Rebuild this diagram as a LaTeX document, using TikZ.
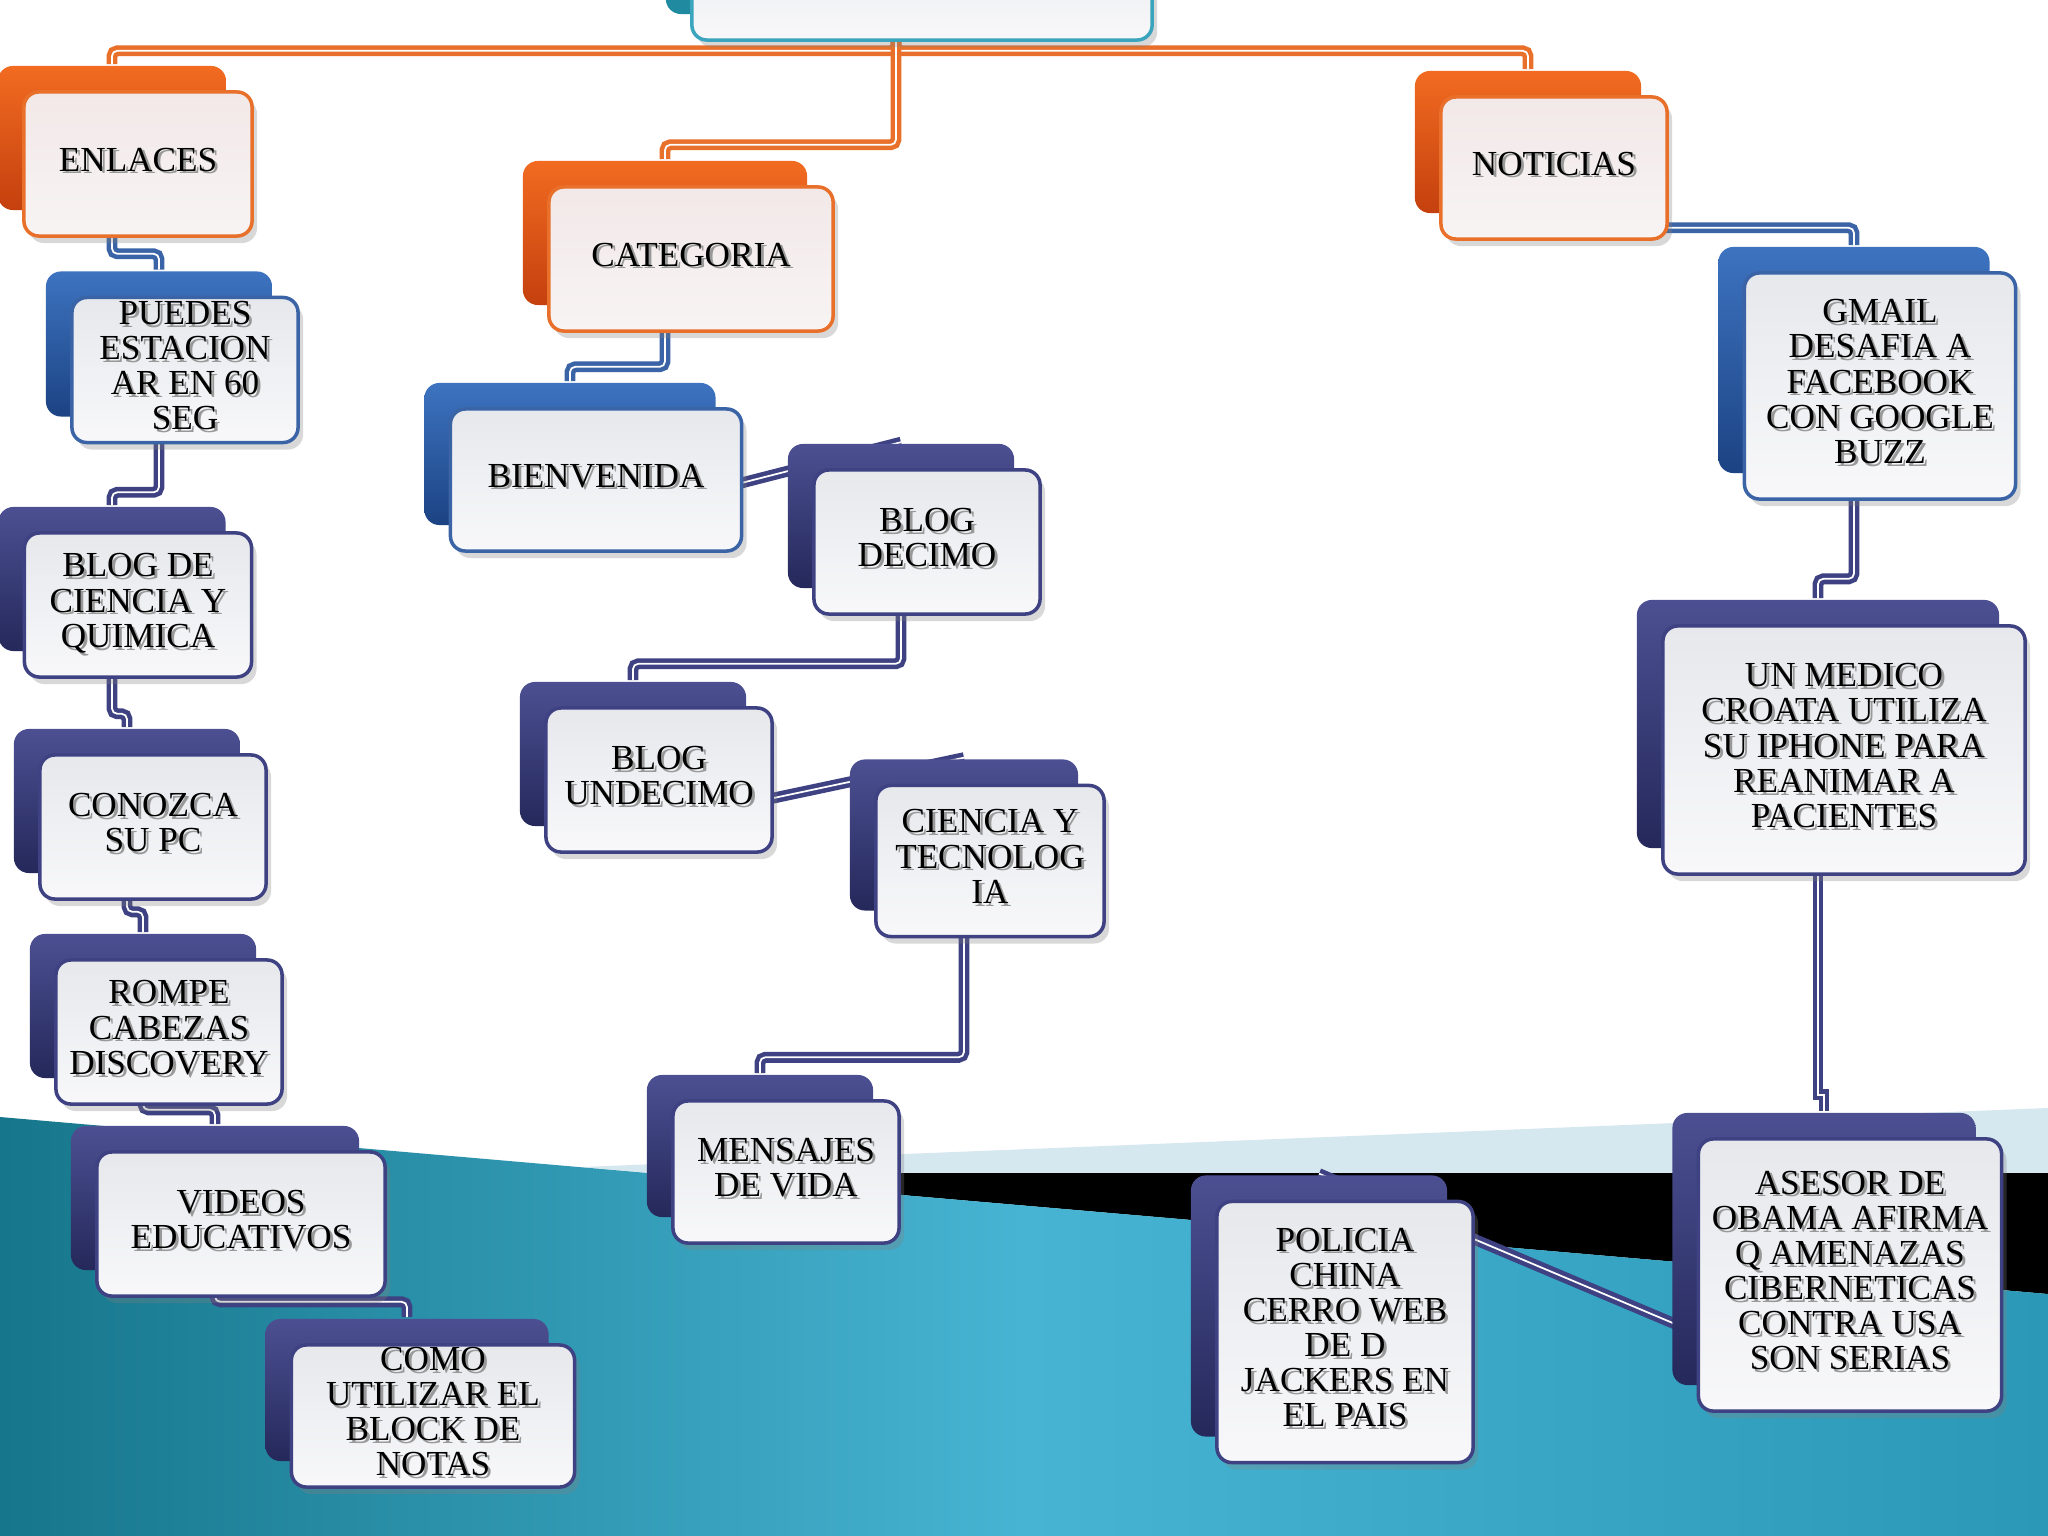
\documentclass[tikz,border=0pt]{standalone}
\usepackage{fontspec}
\setmainfont{Liberation Serif}
\usepackage{tikz}
\usetikzlibrary{shadows,backgrounds}

\definecolor{orangeA}{HTML}{F26B21}
\definecolor{orangeB}{HTML}{C4400E}
\definecolor{orangeedge}{HTML}{E8702A}
\definecolor{blueA}{HTML}{3D73C0}
\definecolor{blueB}{HTML}{1C4383}
\definecolor{blueedge}{HTML}{3A64A6}
\definecolor{navyA}{HTML}{4C5092}
\definecolor{navyB}{HTML}{25285A}
\definecolor{navyedge}{HTML}{3E4282}
\definecolor{tealA}{HTML}{1F8AA0}
\definecolor{tealedge}{HTML}{3BA5BD}
\definecolor{frontA}{HTML}{E6E8EC}
\definecolor{frontB}{HTML}{F8F8FA}
\definecolor{pinkA}{HTML}{F2E8E8}
\definecolor{pinkB}{HTML}{F8F4F4}
\definecolor{bandlight}{HTML}{D5E7EF}
\definecolor{seaA}{HTML}{16768B}
\definecolor{seaB}{HTML}{47B4D3}
\definecolor{seaC}{HTML}{2A98B6}

\newcommand{\shtxt}[1]{%
  \rlap{\raisebox{-0.8pt}[0pt][0pt]{\hspace{0.8pt}\textcolor{black!40}{\begin{tabular}{@{}c@{}}#1\end{tabular}}}}%
  \begin{tabular}{@{}c@{}}#1\end{tabular}}

\pgfdeclarelayer{bandlayer}
\pgfdeclarelayer{linklayer}
\pgfsetlayers{bandlayer,linklayer,main}

\begin{document}
\begin{tikzpicture}[x=0.01cm, y=-0.01cm,
  card/.style={rounded corners=0.15cm, line width=1pt, inner sep=0pt,
    font=\fontsize{10}{10}\selectfont, text=black},
  orangecard/.style={card, draw=orangeedge, top color=pinkA, bottom color=pinkB,
    general shadow={shadow xshift=-0.26cm, shadow yshift=0.26cm, top color=orangeA, bottom color=orangeB},
    drop shadow={shadow xshift=0.05cm, shadow yshift=-0.07cm, opacity=0.3}},
  bluecard/.style={card, draw=blueedge, top color=frontA, bottom color=frontB,
    general shadow={shadow xshift=-0.26cm, shadow yshift=0.26cm, top color=blueA, bottom color=blueB},
    drop shadow={shadow xshift=0.05cm, shadow yshift=-0.07cm, opacity=0.3}},
  navycard/.style={card, draw=navyedge, top color=frontA, bottom color=frontB,
    general shadow={shadow xshift=-0.26cm, shadow yshift=0.26cm, top color=navyA, bottom color=navyB},
    drop shadow={shadow xshift=0.05cm, shadow yshift=-0.07cm, opacity=0.3}},
  tealcard/.style={card, draw=tealedge, top color=frontA, bottom color=frontB,
    general shadow={shadow xshift=-0.26cm, shadow yshift=0.26cm, fill=tealA},
    drop shadow={shadow xshift=0.05cm, shadow yshift=-0.07cm, opacity=0.3}},
  link/.style={line width=1.3pt, double=white, double distance=0.5pt, rounded corners=1.5pt},
  orangelink/.style={link, draw=orangeedge},
  bluelink/.style={link, draw=blueedge},
  navylink/.style={link, draw=navyedge},
  bk/.style={xshift=-0.26cm, yshift=0.26cm}]
  \useasboundingbox (0,0) rectangle (2048,1536);

  \begin{pgfonlayer}{bandlayer}
    \fill[white] (0,0) rectangle (2048,1536);
    \fill[bandlight] (582,1167) -- (2048,1108) -- (2048,1294) -- cycle;
    \fill[black] (647,1173) -- (2048,1173) -- (2048,1294) -- cycle;
    \shade[left color=seaA, right color=seaC, middle color=seaB] (0,1117) -- (2048,1294) -- (2048,1536) -- (0,1536) -- cycle;
  \end{pgfonlayer}

  \node[tealcard, minimum width=4.60cm, minimum height=1.30cm] (root) at (922,-25) {};

  \node[orangecard, minimum width=2.28cm, minimum height=1.44cm] (enlaces) at (138,164) {\shtxt{ENLACES}};
  \node[orangecard, minimum width=2.84cm, minimum height=1.44cm] (categoria) at (691,259) {\shtxt{CATEGORIA}};
  \node[orangecard, minimum width=2.26cm, minimum height=1.42cm] (noticias) at (1554,168) {\shtxt{NOTICIAS}};

  \node[bluecard, minimum width=2.26cm, minimum height=1.45cm] (puedes) at (185,370) {\shtxt{PUEDES\\ESTACION\\AR EN 60\\SEG}};
  \node[navycard, minimum width=2.27cm, minimum height=1.44cm] (blogciencia) at (138,605) {\shtxt{BLOG DE\\CIENCIA Y\\QUIMICA}};
  \node[navycard, minimum width=2.26cm, minimum height=1.44cm] (conozca) at (153,827) {\shtxt{CONOZCA\\SU PC}};
  \node[navycard, minimum width=2.26cm, minimum height=1.44cm] (rompe) at (169,1032) {\shtxt{ROMPE\\CABEZAS\\DISCOVERY}};
  \node[navycard, minimum width=2.88cm, minimum height=1.44cm] (videos) at (241,1224) {\shtxt{VIDEOS\\EDUCATIVOS}};
  \node[navycard, minimum width=2.83cm, minimum height=1.42cm] (como) at (433,1416) {\shtxt{COMO\\UTILIZAR EL\\BLOCK DE\\NOTAS}};

  \node[bluecard, minimum width=2.91cm, minimum height=1.42cm] (bienvenida) at (596,480) {\shtxt{BIENVENIDA}};
  \node[navycard, minimum width=2.26cm, minimum height=1.44cm] (blogdecimo) at (927,542) {\shtxt{BLOG\\DECIMO}};
  \node[navycard, minimum width=2.26cm, minimum height=1.44cm] (blogundecimo) at (659,780) {\shtxt{BLOG\\UNDECIMO}};
  \node[navycard, minimum width=2.28cm, minimum height=1.51cm] (ciencia) at (990,861) {\shtxt{CIENCIA Y\\TECNOLOG\\IA}};
  \node[navycard, minimum width=2.26cm, minimum height=1.42cm] (mensajes) at (786,1172) {\shtxt{MENSAJES\\DE VIDA}};

  \node[bluecard, minimum width=2.71cm, minimum height=2.26cm] (gmail) at (1880,386) {\shtxt{GMAIL\\DESAFIA A\\FACEBOOK\\CON GOOGLE\\BUZZ}};
  \node[navycard, minimum width=3.62cm, minimum height=2.48cm] (medico) at (1844,750) {\shtxt{UN MEDICO\\CROATA UTILIZA\\SU IPHONE PARA\\REANIMAR A\\PACIENTES}};
  \node[navycard, minimum width=3.03cm, minimum height=2.72cm] (asesor) at (1850,1275) {\shtxt{ASESOR DE\\OBAMA AFIRMA\\Q AMENAZAS\\CIBERNETICAS\\CONTRA USA\\SON SERIAS}};
  \node[navycard, minimum width=2.56cm, minimum height=2.61cm] (policia) at (1345,1332) {\shtxt{POLICIA\\CHINA\\CERRO WEB\\DE D\\JACKERS EN\\EL PAIS}};

  \begin{pgfonlayer}{linklayer}
    \draw[orangelink] ([bk]root.south) -- ++(0,35) -| ([bk]enlaces.north);
    \draw[orangelink] ([bk]root.south) -- ++(0,35) -| ([bk]noticias.north);
    \draw[orangelink] ([bk]root.south) -- ++(0,129) -| ([bk]categoria.north);
    \draw[bluelink] ([bk]enlaces.south) -- ++(0,42) -| ([bk]puedes.north);
    \draw[navylink] ([bk]puedes.south) -- ++(0,74) -| ([bk]blogciencia.north);
    \draw[navylink] ([bk]blogciencia.south) -- ++(0,61) -| ([bk]conozca.north);
    \draw[navylink] ([bk]conozca.south) -- ++(0,37) -| ([bk]rompe.north);
    \draw[navylink] ([bk]rompe.south) -- ++(0,30) -| ([bk]videos.north);
    \draw[navylink] ([bk]videos.south) -- ++(0,30) -| ([bk]como.north);
    \draw[bluelink] ([bk]categoria.south) -- ++(0,60) -| ([bk]bienvenida.north);
    \draw[navylink] ([bk]bienvenida.south) -- ([bk]blogdecimo.north);
    \draw[navylink] ([bk]blogdecimo.south) -- ++(0,74) -| ([bk]blogundecimo.north);
    \draw[navylink] ([bk]blogundecimo.south) -- ([bk]ciencia.north);
    \draw[navylink] ([bk]ciencia.south) -- ++(0,145) -| ([bk]mensajes.north);
    \draw[bluelink] ([bk]noticias.south) -- ++(0,13) -| ([bk]gmail.north);
    \draw[navylink] ([bk]gmail.south) -- ++(0,104) -| ([bk]medico.north);
    \draw[navylink, rounded corners=0pt] ([bk]medico.south) -- ++(0,245) -| ([bk]asesor.north);
    \draw[navylink] ([bk]asesor.south) -- ([bk]policia.north);
  \end{pgfonlayer}
\end{tikzpicture}
\end{document}
